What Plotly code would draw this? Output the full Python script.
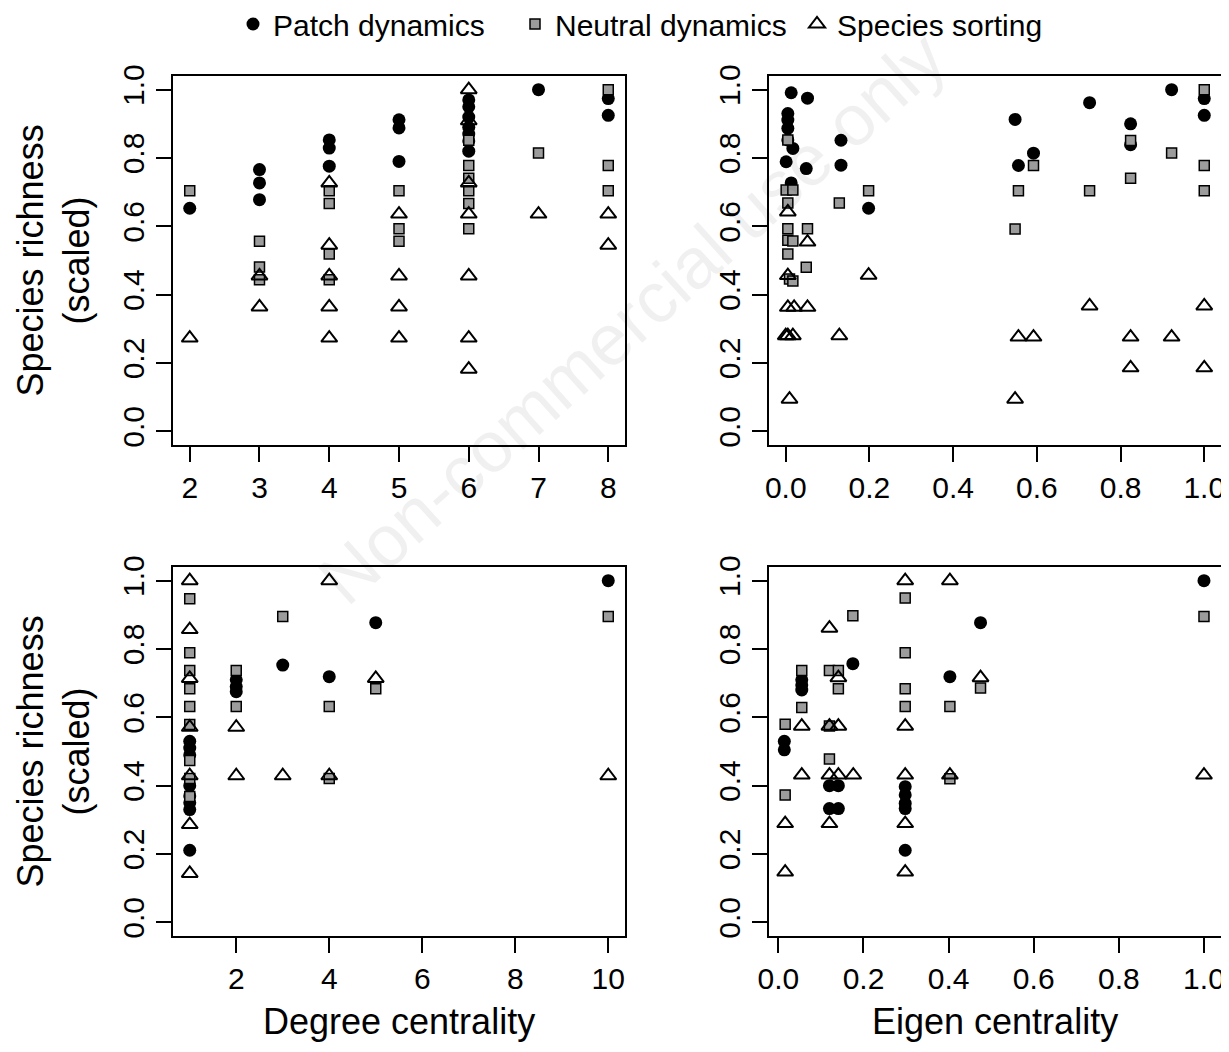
'''
Species richness vs. node centrality for three metacommunity paradigms
'''

import plotly.graph_objects as go

# --- top left: degree centrality ---
tl_patch_x = [2, 3, 3, 3, 4, 4, 4, 5, 5, 5, 6, 6, 6, 6, 6, 6, 6, 7, 8, 8]
tl_patch_y = [0.653, 0.766, 0.727, 0.678, 0.853, 0.829, 0.776, 0.912, 0.888, 0.790,
              0.970, 0.950, 0.920, 0.890, 0.870, 0.850, 0.820, 1.000, 0.974, 0.925]
tl_neutral_x = [2, 3, 3, 3, 4, 4, 4, 4, 5, 5, 5, 6, 6, 6, 6, 6, 6, 7, 8, 8, 8]
tl_neutral_y = [0.704, 0.556, 0.481, 0.444, 0.704, 0.667, 0.519, 0.444, 0.704, 0.593, 0.556,
                0.852, 0.778, 0.741, 0.704, 0.667, 0.593, 0.815, 1.000, 0.778, 0.704]
tl_sorting_x = [2, 3, 3, 4, 4, 4, 4, 4, 5, 5, 5, 5, 6, 6, 6, 6, 6, 6, 6, 7, 8, 8]
tl_sorting_y = [0.273, 0.455, 0.364, 0.727, 0.545, 0.455, 0.364, 0.273, 0.636, 0.455, 0.364,
                0.273, 1.000, 0.909, 0.727, 0.636, 0.455, 0.273, 0.182, 0.636, 0.636, 0.545]

# --- top right: eigen centrality ---
tr_patch_x = [0.013, 0.052, 0.005, 0.005, 0.005, 0.005, 0.017, 0.001, 0.049, 0.132, 0.132,
              0.013, 0.198, 0.548, 0.556, 0.592, 0.726, 0.824, 0.824, 0.922, 1.000, 1.000]
tr_patch_y = [0.991, 0.975, 0.930, 0.911, 0.887, 0.853, 0.828, 0.789, 0.769, 0.852, 0.779,
              0.727, 0.653, 0.913, 0.778, 0.814, 0.962, 0.900, 0.839, 1.000, 0.974, 0.925]
tr_neutral_x = [0.005, 0.001, 0.017, 0.005, 0.128, 0.198, 0.005, 0.052, 0.005, 0.017, 0.005, 0.049,
                0.009, 0.017, 0.548, 0.556, 0.592, 0.726, 0.824, 0.824, 0.922, 1.000, 1.000, 1.000]
tr_neutral_y = [0.853, 0.706, 0.706, 0.668, 0.668, 0.704, 0.593, 0.593, 0.559, 0.557, 0.519, 0.480,
                0.446, 0.440, 0.592, 0.704, 0.778, 0.704, 0.851, 0.741, 0.815, 1.000, 0.778, 0.704]
tr_sorting_x = [0.005, 0.052, 0.005, 0.198, 0.005, 0.020, 0.052, 0.000, 0.005, 0.017, 0.128,
                0.009, 0.548, 0.556, 0.592, 0.726, 0.824, 0.824, 0.922, 1.000, 1.000]
tr_sorting_y = [0.642, 0.554, 0.456, 0.457, 0.363, 0.363, 0.363, 0.280, 0.280, 0.280, 0.280,
                0.094, 0.094, 0.276, 0.276, 0.367, 0.276, 0.186, 0.276, 0.367, 0.186]

# --- bottom left: degree centrality ---
bl_patch_x = [1, 1, 1, 1, 1, 1, 1, 1, 2, 2, 2, 3, 4, 5, 10]
bl_patch_y = [0.530, 0.510, 0.490, 0.400, 0.370, 0.350, 0.330, 0.211,
              0.710, 0.690, 0.675, 0.753, 0.719, 0.877, 1.000]
bl_neutral_x = [1, 1, 1, 1, 1, 1, 1, 1, 1, 2, 2, 3, 4, 4, 5, 10]
bl_neutral_y = [0.947, 0.789, 0.737, 0.684, 0.632, 0.579, 0.474, 0.421, 0.368,
                0.737, 0.632, 0.895, 0.632, 0.421, 0.684, 0.895]
bl_sorting_x = [1, 1, 1, 1, 1, 1, 1, 2, 2, 3, 4, 4, 5, 10]
bl_sorting_y = [1.000, 0.857, 0.714, 0.571, 0.429, 0.286, 0.143,
                0.571, 0.429, 0.429, 1.000, 0.429, 0.714, 0.429]

# --- bottom right: eigen centrality ---
br_patch_x = [0.014, 0.014, 0.055, 0.055, 0.055, 0.120, 0.141, 0.120, 0.141, 0.175,
              0.298, 0.298, 0.298, 0.298, 0.298, 0.403, 0.475, 1.000]
br_patch_y = [0.530, 0.505, 0.710, 0.695, 0.680, 0.400, 0.400, 0.333, 0.333, 0.757,
              0.397, 0.373, 0.348, 0.333, 0.211, 0.719, 0.877, 1.000]
br_neutral_x = [0.016, 0.016, 0.055, 0.055, 0.120, 0.141, 0.141, 0.120, 0.120, 0.175,
                0.298, 0.298, 0.298, 0.298, 0.403, 0.403, 0.475, 1.000]
br_neutral_y = [0.580, 0.373, 0.737, 0.629, 0.737, 0.737, 0.684, 0.575, 0.478, 0.897,
                0.949, 0.789, 0.684, 0.632, 0.632, 0.420, 0.686, 0.895]
br_sorting_x = [0.016, 0.016, 0.055, 0.055, 0.120, 0.141, 0.120, 0.141, 0.120, 0.141, 0.176,
                0.120, 0.298, 0.298, 0.298, 0.298, 0.298, 0.403, 0.403, 0.475, 1.000]
br_sorting_y = [0.147, 0.289, 0.574, 0.431, 0.861, 0.716, 0.574, 0.574, 0.431, 0.431, 0.431,
                0.289, 1.000, 0.574, 0.431, 0.289, 0.147, 1.000, 0.431, 0.716, 0.431]

richness_ticks = [0.0, 0.2, 0.4, 0.6, 0.8, 1.0]
eigen_ticks = [0.0, 0.2, 0.4, 0.6, 0.8, 1.0]
degree_top_ticks = [2, 3, 4, 5, 6, 7, 8]
degree_bottom_ticks = [2, 4, 6, 8, 10]

font = 'Liberation Sans, Arial, Helvetica, sans-serif'

patchMarker = dict(symbol='circle', size=13, color='black', line=dict(width=0))
neutralMarker = dict(symbol='square', size=10, color='#9c9c9c',
                     line=dict(color='black', width=1.5))
sortingMarker = dict(symbol='triangle-up-open', size=14, color='black',
                     line=dict(color='black', width=2))

fig = go.Figure()

panels = [
    ('x', 'y', tl_patch_x, tl_patch_y, tl_neutral_x, tl_neutral_y, tl_sorting_x, tl_sorting_y),
    ('x2', 'y2', tr_patch_x, tr_patch_y, tr_neutral_x, tr_neutral_y, tr_sorting_x, tr_sorting_y),
    ('x3', 'y3', bl_patch_x, bl_patch_y, bl_neutral_x, bl_neutral_y, bl_sorting_x, bl_sorting_y),
    ('x4', 'y4', br_patch_x, br_patch_y, br_neutral_x, br_neutral_y, br_sorting_x, br_sorting_y),
]
for i, (xa, ya, px, py, nx, ny, sx, sy) in enumerate(panels):
    first = i == 0
    fig.add_trace(go.Scatter(x=px, y=py, xaxis=xa, yaxis=ya, mode='markers',
                             name='Patch dynamics', marker=patchMarker,
                             legendgroup='p', showlegend=first))
    fig.add_trace(go.Scatter(x=nx, y=ny, xaxis=xa, yaxis=ya, mode='markers',
                             name='Neutral dynamics', marker=neutralMarker,
                             legendgroup='n', showlegend=first))
    fig.add_trace(go.Scatter(x=sx, y=sy, xaxis=xa, yaxis=ya, mode='markers',
                             name='Species sorting', marker=sortingMarker,
                             legendgroup='s', showlegend=first))

# the page body has an 8px margin: shrink the figure so nothing scrolls,
# and shift page positions back by it
OFF = 8
W, H = 1229 - OFF, 1052 - 2 * OFF

def fx(px):
    return (px - OFF) / W

def fy(py):
    return 1 - (py - OFF) / H

leftDom = [fx(173), fx(625)]
rightDom = [fx(769), fx(1221)]
topDom = [fy(445), fy(76)]
bottomDom = [fy(936), fy(567)]

axisStyle = dict(
    showline=True, mirror=True, linecolor='black', linewidth=2,
    ticks='outside', ticklen=15, tickwidth=2, tickcolor='black',
    showgrid=False, zeroline=False, automargin=False,
    tickfont=dict(size=30, color='black', family=font),
)

def yAxis(domain, anchor):
    return dict(axisStyle, domain=domain, anchor=anchor, range=[-0.04, 1.04],
                tickvals=richness_ticks, ticktext=['%.1f' % v for v in richness_ticks],
                tickangle=-90)

fig.update_layout(
    width=W, height=H,
    margin=dict(l=0, r=0, t=0, b=0, autoexpand=False),
    paper_bgcolor='white', plot_bgcolor='white',
    font=dict(family=font, color='black'),
    xaxis=dict(axisStyle, domain=leftDom, anchor='y', range=[1.76, 8.24],
               tickvals=degree_top_ticks),
    yaxis=yAxis(topDom, 'x'),
    xaxis2=dict(axisStyle, domain=rightDom, anchor='y2', range=[-0.04, 1.04],
                tickvals=eigen_ticks, ticktext=['%.1f' % v for v in eigen_ticks]),
    yaxis2=yAxis(topDom, 'x2'),
    xaxis3=dict(axisStyle, domain=leftDom, anchor='y3', range=[0.64, 10.36],
                tickvals=degree_bottom_ticks),
    yaxis3=yAxis(bottomDom, 'x3'),
    xaxis4=dict(axisStyle, domain=rightDom, anchor='y4', range=[-0.022, 1.04],
                tickvals=eigen_ticks, ticktext=['%.1f' % v for v in eigen_ticks]),
    yaxis4=yAxis(bottomDom, 'x4'),
    legend=dict(orientation='h', x=fx(233), xanchor='left', y=fy(-2), yanchor='top',
                entrywidth=237, entrywidthmode='pixels',
                font=dict(size=30, family=font), bgcolor='rgba(0,0,0,0)'),
    showlegend=True,
)

titleFont = dict(size=36, family=font, color='black')
annotations = [
    dict(text='Degree centrality', x=fx(399), y=fy(1021)),
    dict(text='Eigen centrality', x=fx(995), y=fy(1021)),
    dict(text='Species richness<br>(scaled)', x=fx(53), y=fy(260.5), textangle=-90),
    dict(text='Species richness<br>(scaled)', x=fx(53), y=fy(751.5), textangle=-90),
]
for a in annotations:
    fig.add_annotation(xref='paper', yref='paper', showarrow=False,
                       xanchor='center', yanchor='middle', font=titleFont, **a)

# faint watermark
fig.add_annotation(text='Non-commercial use only', xref='paper', yref='paper',
                   x=fx(632), y=fy(318), xanchor='center', yanchor='middle',
                   showarrow=False, textangle=-42,
                   font=dict(size=72, family=font, color='rgba(0,0,0,0.06)'))

fig.write_html('out.html')
